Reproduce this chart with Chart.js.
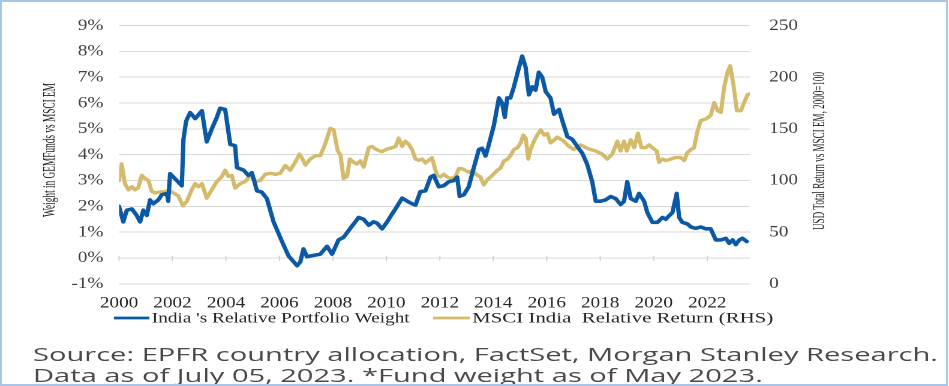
<!DOCTYPE html>
<html><head><meta charset="utf-8">
<script src="https://cdn.jsdelivr.net/npm/chart.js@4.4.0/dist/chart.umd.min.js"></script>
<style>
html,body{margin:0;padding:0;background:#fff;}
body{width:949px;height:386px;position:relative;overflow:hidden;}
#frame{position:absolute;left:0;top:0;width:948px;height:386px;box-sizing:border-box;border:2px solid #a9c6e8;pointer-events:none;}
#wrap{position:absolute;left:0;top:0;width:791px;height:386px;transform:scaleX(1.19975);transform-origin:0 0;}
#src{position:absolute;left:33px;top:344px;font-family:'Open Sans';font-size:19px;line-height:21px;color:#4a4a4a;white-space:nowrap;transform-origin:0 0;}
</style></head>
<body>
<div id="wrap"><canvas id="c"></canvas></div>
<div id="src"><span id="l1">Source: EPFR country allocation, FactSet, Morgan Stanley Research.</span><br><span>Data as of July 05, 2023. *Fund weight as of May 2023.</span></div>
<div id="frame"></div>
<script>
// ---- data ----
const seriesNames = ["India 's Relative Portfolio Weight", "MSCI India  Relative Return (RHS)"];
const yearTicks = [2000,2002,2004,2006,2008,2010,2012,2014,2016,2018,2020,2022];
const yearLabels = ['2000','2002','2004','2006','2008','2010','2012','2014','2016','2018','2020','2022'];

const weightDates = [2000.00,2000.16,2000.29,2000.48,2000.66,2000.79,2000.91,2001.04,2001.16,2001.28,
2001.47,2001.60,2001.79,2001.84,2001.91,2002.16,2002.35,2002.41,2002.51,2002.66,
2002.85,2003.10,2003.28,2003.47,2003.66,2003.78,2003.97,2004.16,2004.34,2004.41,
2004.66,2004.84,2004.97,2005.16,2005.34,2005.53,2005.78,2006.09,2006.34,2006.66,
2006.78,2006.90,2007.03,2007.28,2007.53,2007.78,2007.97,2008.21,2008.40,2008.65,
2008.78,2008.96,2009.15,2009.34,2009.52,2009.65,2009.84,2010.03,2010.21,2010.40,
2010.59,2010.78,2010.96,2011.09,2011.27,2011.46,2011.65,2011.77,2011.96,2012.15,
2012.33,2012.52,2012.65,2012.74,2012.90,2013.08,2013.27,2013.46,2013.58,2013.71,
2013.83,2014.02,2014.21,2014.33,2014.43,2014.52,2014.64,2014.77,2014.96,2015.08,
2015.21,2015.33,2015.46,2015.58,2015.70,2015.83,2015.96,2016.14,2016.27,2016.46,
2016.58,2016.77,2016.95,2017.14,2017.33,2017.51,2017.70,2017.83,2018.01,2018.20,
2018.39,2018.58,2018.76,2018.89,2019.01,2019.14,2019.33,2019.45,2019.64,2019.76,
2019.95,2020.14,2020.33,2020.45,2020.57,2020.70,2020.86,2020.95,2021.07,2021.26,
2021.39,2021.57,2021.76,2021.95,2022.13,2022.32,2022.51,2022.70,2022.82,2022.95,
2023.07,2023.20,2023.32,2023.48];
const weightValues = [2.0,1.4,1.85,1.9,1.65,1.4,1.85,1.65,2.25,2.1,
2.25,2.45,2.5,2.2,3.26,3.0,2.8,4.6,5.3,5.63,
5.4,5.7,4.5,5.0,5.45,5.8,5.75,4.4,4.35,3.5,
3.4,3.2,3.3,2.6,2.55,2.3,1.4,0.65,0.08,-0.3,
-0.15,0.35,0.05,0.1,0.15,0.45,0.15,0.7,0.8,1.15,
1.32,1.57,1.5,1.27,1.4,1.35,1.13,1.4,1.7,2.0,
2.32,2.2,2.1,2.05,2.57,2.6,3.13,3.2,2.76,2.8,
2.95,3.0,3.13,2.39,2.45,2.76,3.5,4.2,4.25,3.95,
4.38,5.13,6.2,6.0,5.45,6.2,6.2,6.63,7.38,7.82,
7.38,6.32,6.63,6.5,7.19,7.0,6.44,6.2,5.57,5.75,
5.32,4.7,4.6,4.32,4.05,3.63,2.95,2.2,2.2,2.25,
2.38,2.3,2.07,2.2,2.95,2.3,2.2,2.5,2.2,1.76,
1.38,1.38,1.57,1.5,1.63,1.76,2.5,1.57,1.38,1.32,
1.2,1.15,1.2,1.13,1.13,0.7,0.7,0.76,0.57,0.7,
0.52,0.7,0.76,0.64];

const returnDates = [2000.00,2000.10,2000.22,2000.35,2000.48,2000.60,2000.72,2000.85,2000.97,2001.10,
2001.22,2001.35,2001.54,2001.72,2001.85,2002.03,2002.22,2002.39,2002.54,2002.72,
2002.85,2002.97,2003.10,2003.28,2003.47,2003.66,2003.85,2003.97,2004.09,2004.22,
2004.34,2004.53,2004.72,2004.91,2005.09,2005.28,2005.47,2005.66,2005.84,2006.03,
2006.22,2006.40,2006.59,2006.75,2006.84,2006.97,2007.15,2007.34,2007.53,2007.72,
2007.90,2008.03,2008.18,2008.28,2008.40,2008.53,2008.63,2008.78,2008.90,2009.03,
2009.15,2009.34,2009.46,2009.59,2009.71,2009.84,2010.03,2010.21,2010.34,2010.46,
2010.59,2010.71,2010.84,2010.96,2011.09,2011.21,2011.34,2011.46,2011.58,2011.71,
2011.80,2011.90,2012.02,2012.15,2012.27,2012.40,2012.58,2012.71,2012.84,2012.96,
2013.08,2013.21,2013.40,2013.52,2013.64,2013.77,2013.90,2014.02,2014.15,2014.27,
2014.40,2014.52,2014.64,2014.77,2014.90,2015.02,2015.12,2015.21,2015.31,2015.39,
2015.52,2015.64,2015.77,2015.90,2016.02,2016.14,2016.27,2016.39,2016.52,2016.64,
2016.83,2017.01,2017.27,2017.45,2017.64,2017.83,2018.08,2018.26,2018.45,2018.64,
2018.76,2018.89,2018.99,2019.14,2019.27,2019.41,2019.54,2019.70,2019.82,2019.95,
2020.11,2020.20,2020.33,2020.46,2020.64,2020.82,2021.01,2021.14,2021.26,2021.39,
2021.51,2021.63,2021.76,2021.95,2022.13,2022.26,2022.39,2022.51,2022.64,2022.76,
2022.86,2022.99,2023.11,2023.26,2023.38,2023.51,2023.60];
const returnValues = [100,116,97,91,94,91,93,105,102,100,
89.6,88,89,89,90.6,88,85,75.5,80,91,
97,94,97,83,91,99,104,110,104,105,
92.7,97,99,105,99,100,106,107,106,107,
114.5,110,117.7,125.5,122,115,120.8,124,124,136,
150.5,149,128.6,125,102,104,120.8,117.5,116,119,
113,131.7,133,130.5,129,128,130.5,131.7,133,141,
133,138,135,130,120.8,119.5,120.8,117,119.5,122,
113,105,103.5,106,103.5,102,103.5,111.4,111.4,109.7,
108,109.7,105,103.5,95.8,100.5,103.5,106.5,110,112,
119,120.5,124,130,131.7,136.4,144,141,120.8,130,
138,144,149,144,145.5,136.5,139,142,140,138,
133,130,134.5,132,130,128.6,125.5,120.8,125.5,138,
128.6,138,128.6,139.5,131.8,145.8,131.8,131.8,134.5,131.8,
128.6,117.7,120.8,119.3,120.8,122.3,122.3,119.3,127,130,
131.7,147.3,158,159.6,163,175.4,167.6,166,191,205,
211,191,167.6,167.6,175.4,183,184];

const leftTitle = 'Weight in GEMFunds vs MSCI EM';
const rightTitle = 'USD Total Return vs MSCI EM, 2000=100';

// ---- styling ----
const BLUE = '#0b59a5', GOLD = '#d4ba6b', SERIF = '"Liberation Serif", "Times New Roman", serif';

function vtext(ctx, str, cx, cy, len, size) {
  ctx.save();
  ctx.translate(cx, cy);
  ctx.rotate(-Math.PI / 2);
  ctx.font = size + 'px ' + SERIF;
  const w = ctx.measureText(str).width;
  ctx.scale(len / w, 1);
  ctx.textAlign = 'center';
  ctx.textBaseline = 'middle';
  ctx.fillStyle = '#222';
  ctx.fillText(str, 0, 0);
  ctx.restore();
}

const overlay = {
  id: 'overlay',
  afterDraw(chart) {
    const ctx = chart.ctx;
    const xs = chart.scales.x, ys = chart.scales.y;
    const y0 = ys.getPixelForValue(0);
    ctx.save();
    ctx.strokeStyle = '#cfcfcf';
    ctx.lineWidth = 1;
    yearTicks.forEach(v => {
      const px = xs.getPixelForValue(v);
      ctx.beginPath(); ctx.moveTo(px, y0 - 2); ctx.lineTo(px, y0 + 3); ctx.stroke();
    });
    ctx.restore();
    vtext(ctx, leftTitle, 41.7, 150, 134, 15);
    vtext(ctx, rightTitle, 683.3, 151, 158, 15);
    const items = [
      {x0: 95, x1: 124.5, tx: 126.5, tw: 215, color: BLUE, label: chart.data.datasets[0].label},
      {x0: 361, x1: 391.5, tx: 393.5, tw: 251, color: GOLD, label: chart.data.datasets[1].label}
    ];
    const ly = 318;
    items.forEach(it => {
      ctx.save();
      ctx.strokeStyle = it.color; ctx.lineWidth = 2.8;
      ctx.beginPath(); ctx.moveTo(it.x0, ly); ctx.lineTo(it.x1, ly); ctx.stroke();
      ctx.font = '15px ' + SERIF;
      ctx.fillStyle = '#262626';
      ctx.textAlign = 'left'; ctx.textBaseline = 'middle';
      const w = ctx.measureText(it.label).width;
      ctx.translate(it.tx, ly + 0.5);
      ctx.scale(it.tw / w, 1);
      ctx.fillText(it.label, 0, 0);
      ctx.restore();
    });
  }
};

const ctx = document.getElementById('c').getContext('2d');
new Chart(ctx, {
  type: 'line',
  data: {
    datasets: [
      {label: seriesNames[0], data: weightDates.map((d, i) => ({x: d, y: weightValues[i]})),
       yAxisID: 'y', borderColor: BLUE, borderWidth: 3.6, pointRadius: 0, tension: 0, fill: false, borderJoinStyle: 'round', borderCapStyle: 'round'},
      {label: seriesNames[1], data: returnDates.map((d, i) => ({x: d, y: returnValues[i]})),
       yAxisID: 'y1', borderColor: GOLD, borderWidth: 3.4, pointRadius: 0, tension: 0, fill: false, borderJoinStyle: 'round', borderCapStyle: 'round'}
    ]
  },
  options: {
    responsive: true, maintainAspectRatio: false, animation: false, devicePixelRatio: 2,
    layout: {padding: {left: 0, right: 0, top: 16.5, bottom: 0}},
    plugins: {legend: {display: false}, tooltip: {enabled: false}},
    scales: {
      x: {
        type: 'linear', min: 2000, max: 2023.6,
        grid: {display: false}, border: {display: false},
        afterBuildTicks: s => { s.ticks = yearTicks.map(v => ({value: v})); },
        afterFit: s => { s.height = 386 - 283.8; },
        ticks: {padding: 2, color: '#262626', maxRotation: 0, autoSkip: false,
                font: {family: SERIF, size: 16}, callback: (v, i) => yearLabels[i]}
      },
      y: {
        position: 'left', min: -1, max: 9,
        afterFit: s => { s.width = 99.2; },
        grid: {color: '#d9d9d9', lineWidth: 1, drawTicks: false}, border: {display: false},
        ticks: {stepSize: 1, padding: 13, color: '#404040', font: {family: SERIF, size: 16},
                callback: v => v + '%'}
      },
      y1: {
        position: 'right', min: 0, max: 250,
        afterFit: s => { s.width = 791 - 625.1; },
        grid: {display: false, drawTicks: false}, border: {display: false},
        ticks: {stepSize: 50, padding: 16, color: '#404040', font: {family: SERIF, size: 16}}
      }
    }
  },
  plugins: [overlay]
});

const l1 = document.getElementById('l1');
const w1 = l1.getBoundingClientRect().width;
document.getElementById('src').style.transform = 'scaleX(' + (905 / w1) + ')';
</script>
</body></html>
